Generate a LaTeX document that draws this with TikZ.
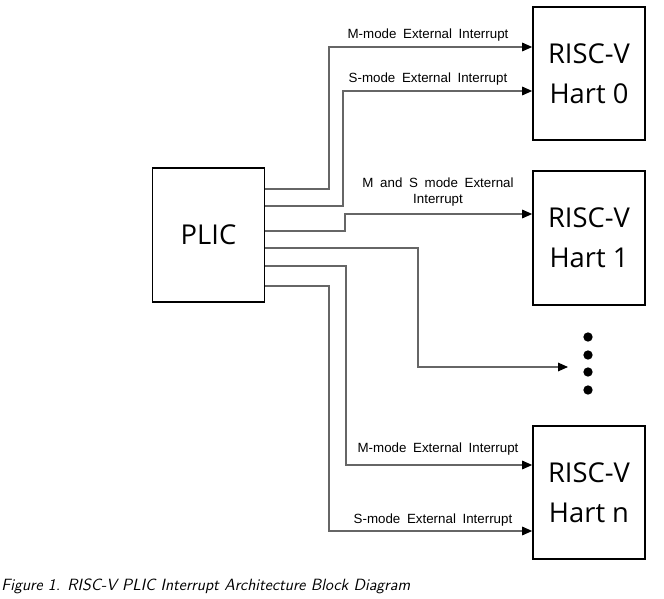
\documentclass[tikz,border=0pt]{standalone}
\usepackage{fontspec}
\newfontfamily\hartfont{Open Sans}
\newfontfamily\sigfont[WordSpace=1.8]{Liberation Sans}
\usetikzlibrary{arrows.meta}

\begin{document}
\begin{tikzpicture}[x=0.75pt, y=-0.75pt,
        block/.style={rectangle, draw, line width=1.3pt, minimum width=84pt, minimum height=100pt, align=center, inner sep=0pt, font=\hartfont\fontsize{20.5}{30}\selectfont},
        sig/.style={anchor=base, inner sep=0pt, align=center, font=\sigfont\fontsize{10}{12}\selectfont},
        wire/.style={-{Triangle[length=7.5pt, width=6.5pt, color=black]}, line width=0.8pt, black!60},
        ellipsisdot/.style={circle, fill, inner sep=0pt, minimum size=7pt}
    ]
    \useasboundingbox (0,0) rectangle (664,599);

    % --- 1. CONTROLLER AND HARTS ---
    \node [block] (plic) at (208.5,235) {PLIC};
    \node [block] (hart0) at (589,73.5) {RISC-V\\Hart 0};
    \node [block] (hart1) at (589,238) {RISC-V\\Hart 1};
    \node [block] (hartn) at (589,492.5) {RISC-V\\Hart n};

    % more harts
    \foreach \y [count=\i] in {337,355,372,390}
        \node [ellipsisdot] (dot\i) at (588,\y) {};
    \coordinate (more) at (568,367);

    % --- 2. INTERRUPT LINES ---
    \draw [wire] (plic.east |- 0,189) -| (329,47) -- (hart0.west |- 0,47);
    \draw [wire] (plic.east |- 0,206) -| (343,91) -- (hart0.west |- 0,91);
    \draw [wire] (plic.east |- 0,231) -| (345,214) -- (hart1.west |- 0,214);
    \draw [wire] (plic.east |- 0,248) -| (418,367) -- (more);
    \draw [wire] (plic.east |- 0,266) -| (346,465) -- (hartn.west |- 0,465);
    \draw [wire] (plic.east |- 0,286) -| (329,531) -- (hartn.west |- 0,531);

    % Labels
    \node [sig] (m0) at (428,39) {M-mode External Interrupt};
    \node [sig] (s0) at (428,83) {S-mode External Interrupt};
    \node [sig] (ms1) at (438,204) {M and S mode External\\Interrupt};
    \node [sig] (mn) at (438,452) {M-mode External Interrupt};
    \node [sig] (sn) at (433,523) {S-mode External Interrupt};

    % --- 3. CAPTION ---
    \node [anchor=base west, inner sep=0pt, font=\sffamily\itshape\fontsize{12.2}{14}\selectfont] (caption) at (1,590) {Figure 1. RISC-V PLIC Interrupt Architecture Block Diagram};

\end{tikzpicture}
\end{document}
